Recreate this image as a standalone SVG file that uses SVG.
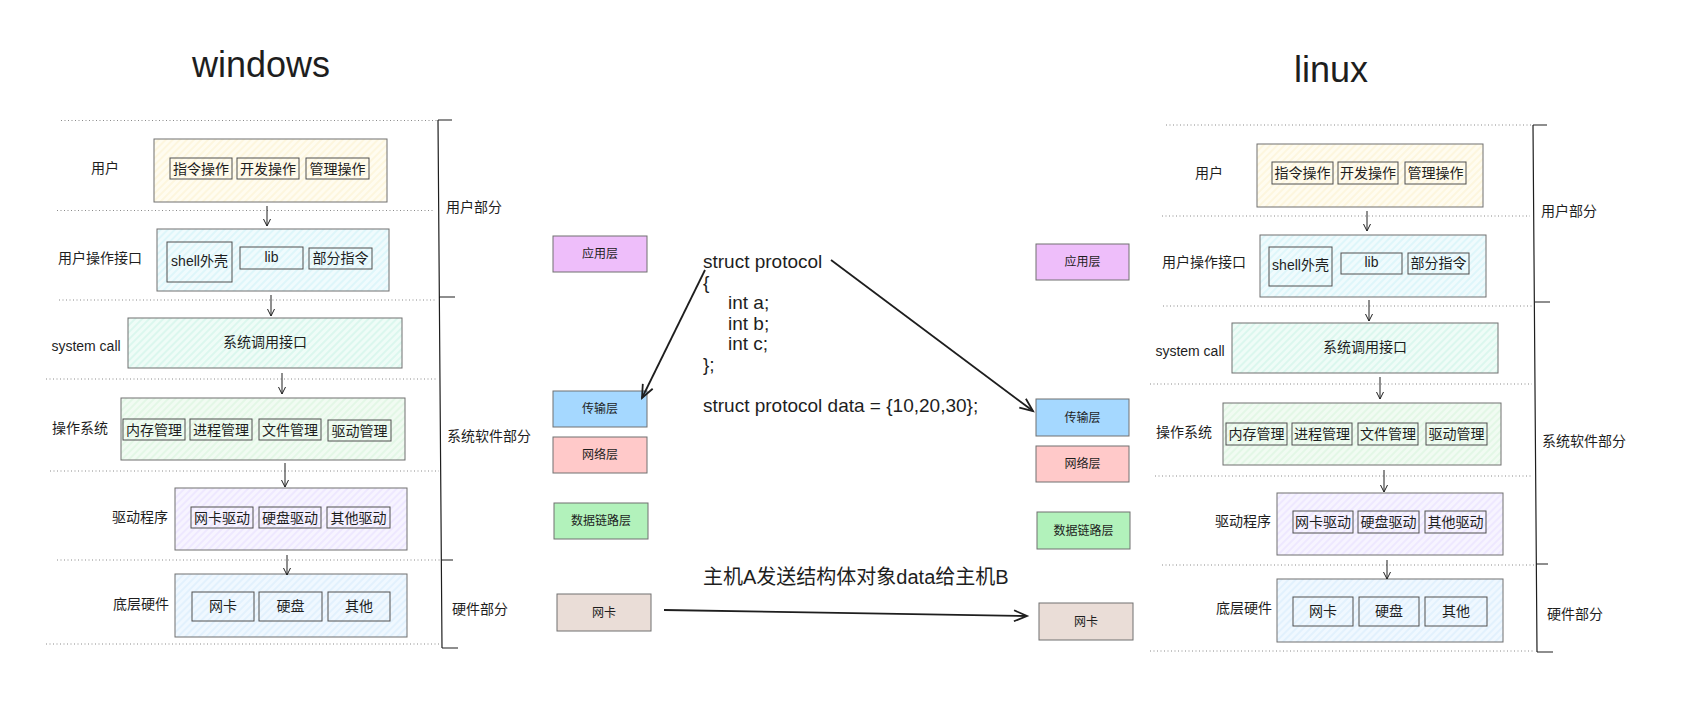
<svg xmlns="http://www.w3.org/2000/svg" width="1686" height="717" viewBox="0 0 1686 717">
<style>
.t{font-family:"Liberation Sans","Noto Sans CJK SC",sans-serif;font-size:14px;fill:#1e1e1e;text-anchor:middle;dominant-baseline:central}
.l{font-family:"Liberation Sans","Noto Sans CJK SC",sans-serif;font-size:14px;fill:#1e1e1e;dominant-baseline:central}
.s{font-family:"Liberation Sans","Noto Sans CJK SC",sans-serif;font-size:12px;fill:#1e1e1e;text-anchor:middle;dominant-baseline:central}
.title{font-family:"Liberation Sans",sans-serif;font-size:36px;fill:#1e1e1e}
.code{font-family:"Liberation Sans",sans-serif;font-size:19px;fill:#1e1e1e}
.big{font-family:"Liberation Sans","Noto Sans CJK SC",sans-serif;font-size:20px;fill:#1e1e1e}
.box{stroke:#707070;stroke-width:1}
.in{fill:none;stroke:#505050;stroke-width:1}
.dot{stroke:#8a8a8a;stroke-width:1;stroke-dasharray:1 2.5;fill:none}
.br{stroke:#1e1e1e;stroke-width:1.2;fill:none}
.ar{stroke:#1e1e1e;stroke-width:1;fill:none}
.arb{stroke:#1e1e1e;stroke-width:1.8;fill:none}
</style>
<defs>
<marker id="ms" markerUnits="userSpaceOnUse" markerWidth="12" markerHeight="12" refX="10" refY="6" orient="auto"><path d="M3,2.5 L10,6 L3,9.5" fill="none" stroke="#1e1e1e" stroke-width="1"/></marker>
<marker id="mb" markerUnits="userSpaceOnUse" markerWidth="20" markerHeight="20" refX="17" refY="10" orient="auto"><path d="M4,4.5 L17,10 L4,15.5" fill="none" stroke="#1e1e1e" stroke-width="1.8"/></marker>
<pattern id="pY" patternUnits="userSpaceOnUse" width="5" height="5" patternTransform="rotate(45)"><rect width="5" height="5" fill="#fffcf0"/><line x1="1" y1="0" x2="1" y2="5" stroke="#fcf0cc" stroke-width="1"/></pattern>
<pattern id="pC" patternUnits="userSpaceOnUse" width="5" height="5" patternTransform="rotate(45)"><rect width="5" height="5" fill="#f0fbfd"/><line x1="1" y1="0" x2="1" y2="5" stroke="#cdf2f7" stroke-width="1"/></pattern>
<pattern id="pT" patternUnits="userSpaceOnUse" width="5" height="5" patternTransform="rotate(45)"><rect width="5" height="5" fill="#effcf7"/><line x1="1" y1="0" x2="1" y2="5" stroke="#c8f3e5" stroke-width="1"/></pattern>
<pattern id="pG" patternUnits="userSpaceOnUse" width="5" height="5" patternTransform="rotate(45)"><rect width="5" height="5" fill="#f1fbf2"/><line x1="1" y1="0" x2="1" y2="5" stroke="#d6f4da" stroke-width="1"/></pattern>
<pattern id="pV" patternUnits="userSpaceOnUse" width="5" height="5" patternTransform="rotate(45)"><rect width="5" height="5" fill="#f7f4ff"/><line x1="1" y1="0" x2="1" y2="5" stroke="#e6ddff" stroke-width="1"/></pattern>
<pattern id="pB" patternUnits="userSpaceOnUse" width="5" height="5" patternTransform="rotate(45)"><rect width="5" height="5" fill="#f0f8ff"/><line x1="1" y1="0" x2="1" y2="5" stroke="#d4eafc" stroke-width="1"/></pattern>
</defs>
<rect width="1686" height="717" fill="#ffffff"/>

<g id="titles">
<text class="title" x="192" y="77">windows</text>
<text class="title" x="1294" y="82">linux</text>
</g>

<g id="dividers">
<path class="dot" d="M61,120.5H437 M57,210.5H433 M59,300H435 M46,379H436 M50,471H439 M57,560H440 M46,644H440"/>
<path class="dot" d="M1166,125H1533 M1162,216H1530 M1163,306H1532 M1150,384H1532 M1155,476H1533 M1162,565H1537 M1150,651H1535"/>
</g>

<g id="brackets">
<path class="br" d="M438,120L442,648 M438,120H452 M439,297H455 M441,560H453 M442,648H458"/>
<path class="br" d="M1533,125L1537,652 M1533,125H1547 M1535,302H1550 M1536,564H1548 M1537,652H1553"/>
<text class="l" x="446" y="207">用户部分</text>
<text class="l" x="447" y="436">系统软件部分</text>
<text class="l" x="452" y="609">硬件部分</text>
<text class="l" x="1541" y="211">用户部分</text>
<text class="l" x="1542" y="441">系统软件部分</text>
<text class="l" x="1547" y="614">硬件部分</text>
</g>

<!-- Windows stack -->
<g id="w-user">
<rect class="box" x="154" y="139" width="233" height="63" fill="url(#pY)"/>
<text class="t" x="105" y="168">用户</text>
<rect class="in" x="170" y="158" width="62" height="21"/><text class="t" x="201" y="168.5">指令操作</text>
<rect class="in" x="237" y="158" width="62" height="21"/><text class="t" x="268" y="168.5">开发操作</text>
<rect class="in" x="306" y="158" width="63" height="21"/><text class="t" x="337.5" y="168.5">管理操作</text>
</g>
<g id="w-ui">
<rect class="box" x="157" y="229" width="232" height="62" fill="url(#pC)"/>
<text class="t" x="100" y="258">用户操作接口</text>
<rect class="in" x="167" y="242" width="65" height="40"/><text class="t" x="199.5" y="261">shell外壳</text>
<rect class="in" x="240" y="247" width="63" height="22"/><text class="t" x="271.5" y="257">lib</text>
<rect class="in" x="309" y="248" width="63" height="21"/><text class="t" x="340.5" y="257.5">部分指令</text>
</g>
<g id="w-syscall">
<rect class="box" x="128" y="318" width="274" height="50" fill="url(#pT)"/>
<text class="t" x="86" y="346">system call</text>
<text class="t" x="265" y="342">系统调用接口</text>
</g>
<g id="w-os">
<rect class="box" x="121" y="398" width="284" height="62" fill="url(#pG)"/>
<text class="t" x="80" y="428">操作系统</text>
<rect class="in" x="123" y="419" width="62" height="21"/><text class="t" x="154" y="429.5">内存管理</text>
<rect class="in" x="190" y="419" width="62" height="21"/><text class="t" x="221" y="429.5">进程管理</text>
<rect class="in" x="259" y="419" width="62" height="21"/><text class="t" x="290" y="429.5">文件管理</text>
<rect class="in" x="328" y="420" width="63" height="21"/><text class="t" x="359.5" y="430.5">驱动管理</text>
</g>
<g id="w-driver">
<rect class="box" x="175" y="488" width="232" height="62" fill="url(#pV)"/>
<text class="t" x="140" y="517">驱动程序</text>
<rect class="in" x="191" y="507" width="62" height="21"/><text class="t" x="222" y="517.5">网卡驱动</text>
<rect class="in" x="259" y="507" width="62" height="21"/><text class="t" x="290" y="517.5">硬盘驱动</text>
<rect class="in" x="327" y="507" width="63" height="21"/><text class="t" x="358.5" y="517.5">其他驱动</text>
</g>
<g id="w-hw">
<rect class="box" x="175" y="574" width="232" height="63" fill="url(#pB)"/>
<text class="t" x="141" y="604">底层硬件</text>
<rect class="in" x="192" y="592" width="62" height="29"/><text class="t" x="223" y="606">网卡</text>
<rect class="in" x="259" y="592" width="63" height="29"/><text class="t" x="290.5" y="606">硬盘</text>
<rect class="in" x="328" y="592" width="62" height="29"/><text class="t" x="359" y="606">其他</text>
</g>

<!-- Linux stack -->
<g id="l-user">
<rect class="box" x="1257" y="144" width="226" height="63" fill="url(#pY)"/>
<text class="t" x="1209" y="173">用户</text>
<rect class="in" x="1272" y="162" width="61" height="22"/><text class="t" x="1302.5" y="173">指令操作</text>
<rect class="in" x="1338" y="162" width="60" height="22"/><text class="t" x="1368" y="173">开发操作</text>
<rect class="in" x="1405" y="162" width="61" height="22"/><text class="t" x="1435.5" y="173">管理操作</text>
</g>
<g id="l-ui">
<rect class="box" x="1260" y="235" width="226" height="62" fill="url(#pC)"/>
<text class="t" x="1204" y="262">用户操作接口</text>
<rect class="in" x="1269" y="247" width="63" height="39"/><text class="t" x="1300.5" y="265">shell外壳</text>
<rect class="in" x="1341" y="253" width="61" height="21"/><text class="t" x="1371.5" y="262">lib</text>
<rect class="in" x="1408" y="253" width="61" height="21"/><text class="t" x="1438.5" y="263">部分指令</text>
</g>
<g id="l-syscall">
<rect class="box" x="1232" y="323" width="266" height="50" fill="url(#pT)"/>
<text class="t" x="1190" y="351">system call</text>
<text class="t" x="1365" y="347">系统调用接口</text>
</g>
<g id="l-os">
<rect class="box" x="1223" y="403" width="278" height="62" fill="url(#pG)"/>
<text class="t" x="1184" y="432">操作系统</text>
<rect class="in" x="1226" y="423" width="61" height="22"/><text class="t" x="1256.5" y="434">内存管理</text>
<rect class="in" x="1292" y="423" width="60" height="22"/><text class="t" x="1322" y="434">进程管理</text>
<rect class="in" x="1358" y="423" width="60" height="22"/><text class="t" x="1388" y="434">文件管理</text>
<rect class="in" x="1426" y="423" width="61" height="22"/><text class="t" x="1456.5" y="434">驱动管理</text>
</g>
<g id="l-driver">
<rect class="box" x="1277" y="493" width="226" height="62" fill="url(#pV)"/>
<text class="t" x="1243" y="521">驱动程序</text>
<rect class="in" x="1293" y="511" width="60" height="22"/><text class="t" x="1323" y="522">网卡驱动</text>
<rect class="in" x="1358" y="511" width="61" height="22"/><text class="t" x="1388.5" y="522">硬盘驱动</text>
<rect class="in" x="1425" y="511" width="61" height="22"/><text class="t" x="1455.5" y="522">其他驱动</text>
</g>
<g id="l-hw">
<rect class="box" x="1277" y="579" width="226" height="63" fill="url(#pB)"/>
<text class="t" x="1244" y="608">底层硬件</text>
<rect class="in" x="1293" y="597" width="60" height="29"/><text class="t" x="1323" y="611">网卡</text>
<rect class="in" x="1359" y="597" width="60" height="29"/><text class="t" x="1389" y="611">硬盘</text>
<rect class="in" x="1425" y="597" width="62" height="29"/><text class="t" x="1456" y="611">其他</text>
</g>

<!-- Network layers left (host A) -->
<g id="a-app"><rect class="box" x="553" y="236" width="94" height="36" fill="#eebefa"/><text class="s" x="600" y="254">应用层</text></g>
<g id="a-trans"><rect class="box" x="553" y="391" width="94" height="36" fill="#a5d8ff"/><text class="s" x="600" y="409">传输层</text></g>
<g id="a-net"><rect class="box" x="553" y="437" width="94" height="36" fill="#ffc9c9"/><text class="s" x="600" y="455">网络层</text></g>
<g id="a-link"><rect class="box" x="554" y="503" width="94" height="36" fill="#b2f2bb"/><text class="s" x="601" y="521">数据链路层</text></g>
<g id="a-nic"><rect class="box" x="557" y="594" width="94" height="37" fill="#eaddd7"/><text class="s" x="604" y="612.5">网卡</text></g>

<!-- Network layers right (host B) -->
<g id="b-app"><rect class="box" x="1036" y="244" width="93" height="36" fill="#eebefa"/><text class="s" x="1082.5" y="262">应用层</text></g>
<g id="b-trans"><rect class="box" x="1036" y="399" width="93" height="37" fill="#a5d8ff"/><text class="s" x="1082.5" y="417.5">传输层</text></g>
<g id="b-net"><rect class="box" x="1036" y="446" width="93" height="36" fill="#ffc9c9"/><text class="s" x="1082.5" y="464">网络层</text></g>
<g id="b-link"><rect class="box" x="1037" y="512" width="93" height="37" fill="#b2f2bb"/><text class="s" x="1083.5" y="530.5">数据链路层</text></g>
<g id="b-nic"><rect class="box" x="1039" y="603" width="94" height="37" fill="#eaddd7"/><text class="s" x="1086" y="621.5">网卡</text></g>

<g id="code">
<text class="code" x="703" y="268">struct protocol</text>
<text class="code" x="703" y="288.5">{</text>
<text class="code" x="728" y="309">int a;</text>
<text class="code" x="728" y="329.5">int b;</text>
<text class="code" x="728" y="350">int c;</text>
<text class="code" x="703" y="370.5">};</text>
<text class="code" x="703" y="411.5">struct protocol data = {10,20,30};</text>
</g>
<g id="caption">
<text class="big" x="703" y="584">主机A发送结构体对象data给主机B</text>
</g>

<g id="connectors">
<path class="ar" marker-end="url(#ms)" d="M267,206L267,226"/>
<path class="ar" marker-end="url(#ms)" d="M271,295L271,316"/>
<path class="ar" marker-end="url(#ms)" d="M282,373L282,394"/>
<path class="ar" marker-end="url(#ms)" d="M285,463L285,487"/>
<path class="ar" marker-end="url(#ms)" d="M287,555L287,575"/>
<path class="ar" marker-end="url(#ms)" d="M1367,211L1367,231"/>
<path class="ar" marker-end="url(#ms)" d="M1369,300L1369,321"/>
<path class="ar" marker-end="url(#ms)" d="M1380,377L1380,399"/>
<path class="ar" marker-end="url(#ms)" d="M1384,470L1384,492"/>
<path class="ar" marker-end="url(#ms)" d="M1387,560L1387,579"/>
<path class="arb" marker-end="url(#mb)" d="M705,270L642,398"/>
<path class="arb" marker-end="url(#mb)" d="M831,260L1033,411"/>
<path class="arb" marker-end="url(#mb)" d="M664,610L1027,616"/>
</g>
</svg>
